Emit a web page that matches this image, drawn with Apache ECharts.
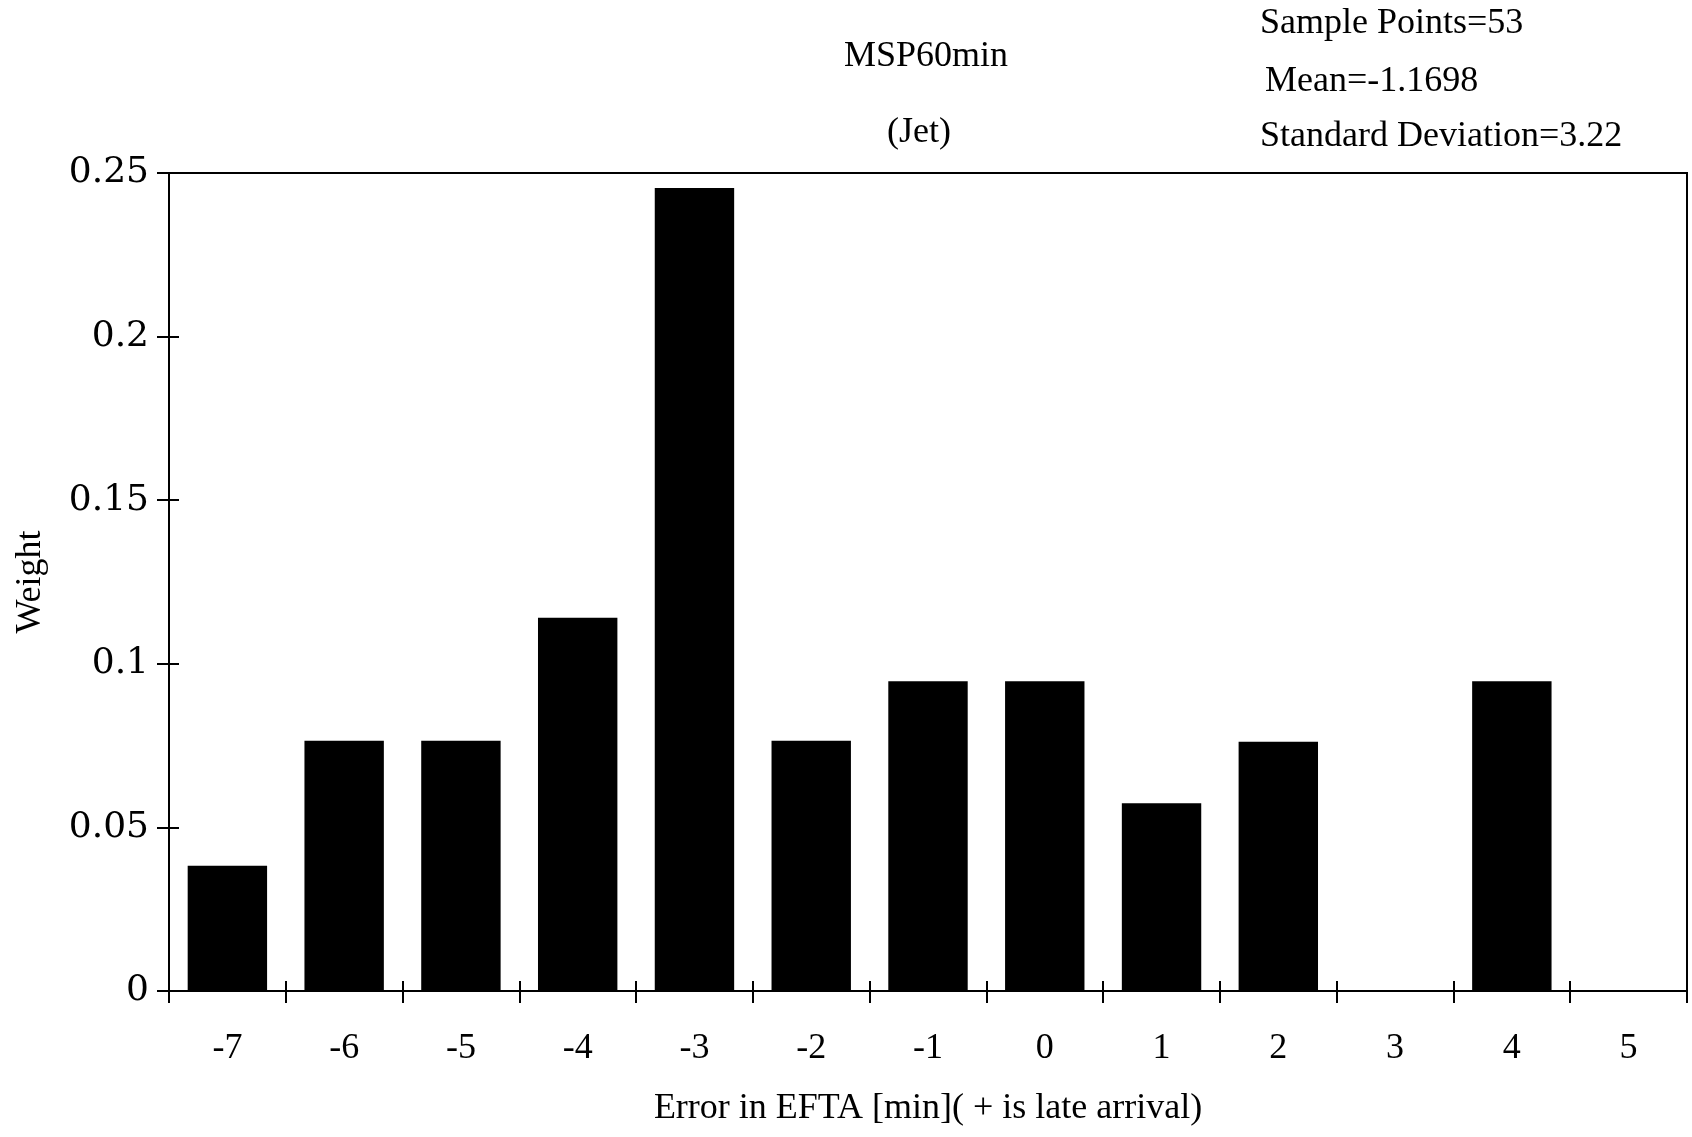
<!DOCTYPE html>
<html>
<head>
<meta charset="utf-8">
<script src="https://cdn.jsdelivr.net/npm/echarts@6/dist/echarts.min.js"></script>
<style>
html,body{margin:0;padding:0;background:#fff;}
#chart{width:1692px;height:1137px;}
</style>
</head>
<body>
<div id="chart"></div>
<script>
const categories = ['-7','-6','-5','-4','-3','-2','-1','0','1','2','3','4','5'];
const weights = [0.0383, 0.0765, 0.0765, 0.1141, 0.2454, 0.0765, 0.0947, 0.0947, 0.0574, 0.0762, 0, 0.0947, 0];
const yTicks = {min: 0, max: 0.25, interval: 0.05};
const titleLines = ['MSP60min', '(Jet)'];
const statLines = ['Sample Points=53', 'Mean=-1.1698', 'Standard Deviation=3.22'];
const xName = 'Error in EFTA [min]( + is late arrival)';
const yName = 'Weight';

const serif = '"Liberation Serif", "Times New Roman", serif';
const GL = 169, GR = 5, GT = 173, GB = 146;
const gridW = 1692 - GL - GR, gridH = 1137 - GT - GB;
const chart = echarts.init(document.getElementById('chart'));
function txt(t, x, y, align) {
  return {type: 'text', style: {text: t, x: x, y: y, align: align, verticalAlign: 'middle', font: '36px ' + serif, fill: '#000'}};
}
const blank = function () { return ''; };
chart.setOption({
  backgroundColor: '#ffffff',
  animation: false,
  grid: {left: GL, right: GR, top: GT, bottom: GB, show: true, borderColor: '#000', borderWidth: 2, backgroundColor: 'transparent'},
  graphic: [
    txt(titleLines[0], 926, 57, 'center'),
    txt(titleLines[1], 919, 133, 'center'),
    txt(statLines[0], 1260, 24, 'left'),
    txt(statLines[1], 1265, 82, 'left'),
    txt(statLines[2], 1260, 137, 'left')
  ],
  xAxis: [
    {
      type: 'category', data: categories, boundaryGap: true, position: 'bottom',
      axisLine: {lineStyle: {color: '#000', width: 2}},
      axisTick: {show: true, inside: false, length: 12, lineStyle: {color: '#000', width: 2}},
      axisLabel: {color: '#000', fontFamily: serif, fontSize: 36, margin: 40},
      name: xName, nameLocation: 'middle', nameGap: 100,
      nameTextStyle: {color: '#000', fontFamily: serif, fontSize: 36}
    },
    {
      type: 'category', data: categories, boundaryGap: true, position: 'top', offset: -gridH,
      axisLine: {show: true, lineStyle: {color: '#000', width: 2}},
      axisTick: {show: true, inside: false, length: 10, lineStyle: {color: '#000', width: 2}},
      axisLabel: {show: true, formatter: blank}
    }
  ],
  yAxis: [
    {
      type: 'value', min: yTicks.min, max: yTicks.max, interval: yTicks.interval, position: 'left',
      splitLine: {show: false},
      axisLine: {show: true, lineStyle: {color: '#000', width: 2}},
      axisTick: {show: true, inside: false, length: 12, lineStyle: {color: '#000', width: 2}},
      axisLabel: {color: '#000', fontFamily: '"DejaVu Serif", serif', fontSize: 36, margin: 20},
      name: yName, nameLocation: 'middle', nameGap: 120,
      nameTextStyle: {color: '#000', fontFamily: serif, fontSize: 36}
    },
    {
      type: 'value', min: yTicks.min, max: yTicks.max, interval: yTicks.interval, position: 'right', offset: -gridW,
      splitLine: {show: false},
      axisLine: {show: true, lineStyle: {color: '#000', width: 2}},
      axisTick: {show: true, inside: false, length: 10, lineStyle: {color: '#000', width: 2}},
      axisLabel: {show: true, formatter: blank}
    }
  ],
  series: [{
    type: 'bar', data: weights, xAxisIndex: 0, yAxisIndex: 0,
    barCategoryGap: '32%',
    itemStyle: {color: '#000'}
  }]
});
</script>
</body>
</html>
